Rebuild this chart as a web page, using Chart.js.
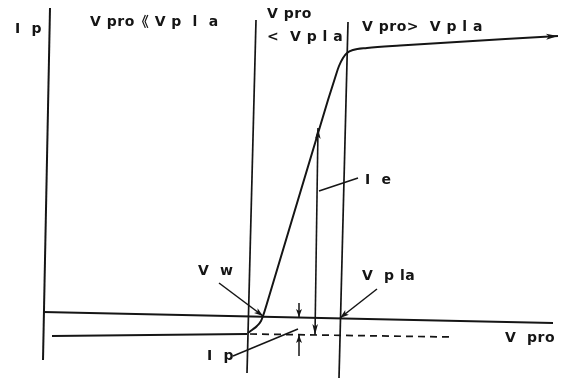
<!DOCTYPE html>
<html>
<head>
<meta charset="utf-8">
<script src="https://cdn.jsdelivr.net/npm/chart.js@4"></script>
<style>
  html, body { margin: 0; padding: 0; background: #fff; }
  canvas { display: block; }
</style>
</head>
<body>
<canvas id="probe-chart" width="571" height="382"></canvas>
<script>
// Langmuir probe characteristic (arbitrary units: probe voltage vs. probe current)

// Axis and region boundary lines
const currentAxisV = [50, 43];
const currentAxisI = [374, 22];
const wallLineV = [256, 247];
const wallLineI = [362, 9];
const plasmaLineV = [348, 339];
const plasmaLineI = [360, 4];
const zeroLineV = [43, 553];
const zeroLineI = [70, 59];

// Ion saturation level (solid part and dashed continuation)
const ionSatV = [52, 247];
const ionSatI = [46, 48];
const ionDashV = [250, 452];
const ionDashI = [48, 45];

// Probe current curve
const probeV = [248, 252, 257, 261, 263, 268, 328, 335, 339, 343, 347, 353, 367, 400, 558];
const probeI = [49, 52, 56, 61, 66, 82, 282, 304, 316, 324, 329, 332, 334, 336.5, 346];

// Electron current span (Ie) and ion current span (Ip)
const ieV = [315, 318];
const ieI = [47, 254];
const ipUpperV = [299, 299];
const ipUpperI = [79, 65];
const ipLowerV = [299, 299];
const ipLowerI = [26, 47];

// Leader lines for the labels
const ieLeaderV = [358, 319];
const ieLeaderI = [204, 191];
const vwLeaderV = [219, 263];
const vwLeaderI = [99, 66];
const vplaLeaderV = [377, 340];
const vplaLeaderI = [93, 64];
const ipLeaderV = [233, 298];
const ipLeaderI = [26, 53];

// Text labels
const labelText = ['I  p', 'V pro《 V p  l  a', 'V pro', '<  V p l a', 'V pro>  V p l a',
                   'I  e', 'V  w', 'V  p la', 'I  p', 'V  pro'];
const labelV = [15, 90, 267, 267, 362, 365, 198, 362, 207, 505];
const labelI = [353, 360, 368, 345, 355, 202, 111, 106, 26, 44];

const ink = '#151515';

function pts(xs, ys) {
    return xs.map((x, i) => ({ x: x, y: ys[i] }));
}

function line(xs, ys, extra) {
    return Object.assign({
        data: pts(xs, ys),
        showLine: true,
        pointRadius: 0,
        borderColor: ink,
        borderWidth: 1.7,
        fill: false
    }, extra || {});
}

// Draws arrow heads and text on top of the datasets
const annotatePlugin = {
    id: 'annotate',
    afterDatasetsDraw(chart) {
        const ctx = chart.ctx;
        const sx = chart.scales.x, sy = chart.scales.y;
        const px = p => ({ x: sx.getPixelForValue(p.x), y: sy.getPixelForValue(p.y) });

        function head(tip, from, len, half) {
            const a = Math.atan2(tip.y - from.y, tip.x - from.x);
            ctx.save();
            ctx.translate(tip.x, tip.y);
            ctx.rotate(a);
            ctx.beginPath();
            ctx.moveTo(0, 0);
            ctx.lineTo(-len, half);
            ctx.lineTo(-len * 0.75, 0);
            ctx.lineTo(-len, -half);
            ctx.closePath();
            ctx.fillStyle = ink;
            ctx.fill();
            ctx.restore();
        }

        chart.data.datasets.forEach(ds => {
            if (!ds.arrow) return;
            const d = ds.data;
            const n = d.length;
            const len = ds.headLen || 10, half = ds.headHalf || 3;
            if (ds.arrow === 'end' || ds.arrow === 'both') head(px(d[n - 1]), px(d[n - 2]), len, half);
            if (ds.arrow === 'start' || ds.arrow === 'both') head(px(d[0]), px(d[1]), len, half);
        });

        ctx.save();
        ctx.fillStyle = ink;
        ctx.font = 'bold 14px "DejaVu Sans", "Noto Sans CJK JP", sans-serif';
        ctx.letterSpacing = '0.5px';
        ctx.textAlign = 'left';
        ctx.textBaseline = 'middle';
        labelText.forEach((t, i) => {
            ctx.fillText(t, sx.getPixelForValue(labelV[i]), sy.getPixelForValue(labelI[i]));
        });
        ctx.restore();
    }
};

new Chart(document.getElementById('probe-chart'), {
    type: 'scatter',
    data: {
        datasets: [
            line(currentAxisV, currentAxisI, { borderWidth: 2 }),
            line(wallLineV, wallLineI),
            line(plasmaLineV, plasmaLineI),
            line(zeroLineV, zeroLineI, { borderWidth: 2 }),
            line(ionSatV, ionSatI, { borderWidth: 2 }),
            line(ionDashV, ionDashI, { borderDash: [7, 5] }),
            line(probeV, probeI, { borderWidth: 2, cubicInterpolationMode: 'monotone', arrow: 'end', headLen: 12, headHalf: 3 }),
            line(ieV, ieI, { borderWidth: 1.6, arrow: 'both', headLen: 11, headHalf: 2.8 }),
            line(ipUpperV, ipUpperI, { borderWidth: 1.5, arrow: 'end', headLen: 8, headHalf: 3 }),
            line(ipLowerV, ipLowerI, { borderWidth: 1.5, arrow: 'end', headLen: 8, headHalf: 3 }),
            line(ieLeaderV, ieLeaderI, { borderWidth: 1.5 }),
            line(vwLeaderV, vwLeaderI, { borderWidth: 1.5, arrow: 'end', headLen: 9, headHalf: 3 }),
            line(vplaLeaderV, vplaLeaderI, { borderWidth: 1.5, arrow: 'end', headLen: 9, headHalf: 3 }),
            line(ipLeaderV, ipLeaderI, { borderWidth: 1.5 })
        ]
    },
    options: {
        responsive: false,
        animation: false,
        layout: { padding: 0 },
        scales: {
            x: { type: 'linear', min: 0, max: 571, display: false },
            y: { type: 'linear', min: 0, max: 382, display: false }
        },
        plugins: {
            legend: { display: false },
            tooltip: { enabled: false }
        }
    },
    plugins: [annotatePlugin]
});
</script>
</body>
</html>
